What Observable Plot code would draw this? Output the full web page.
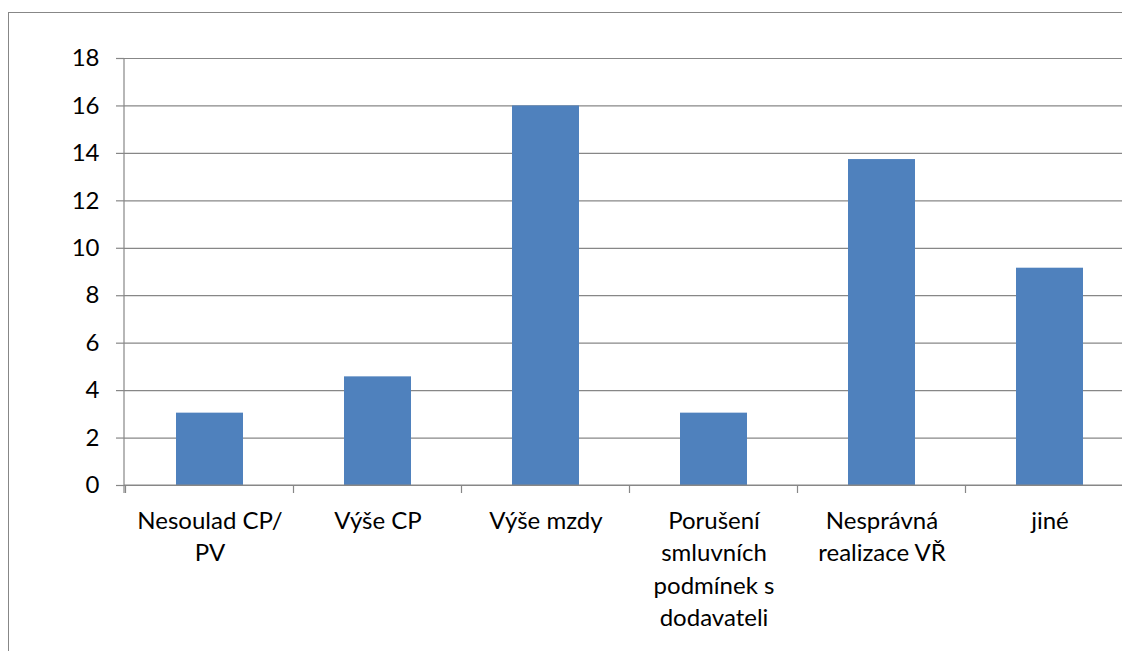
<!DOCTYPE html>
<html>
<head>
<meta charset="utf-8">
<script src="https://cdn.jsdelivr.net/npm/d3@7"></script>
<script src="https://cdn.jsdelivr.net/npm/@observablehq/plot@0.6"></script>
<style>
  html, body { margin: 0; padding: 0; background: white; overflow: hidden; }
  #wrap { position: relative; width: 1122px; height: 651px; overflow: hidden; }
  #frame { position: absolute; left: 8px; top: 12px; width: 1300px; height: 800px;
           border: 1.5px solid #878787; pointer-events: none; }
</style>
</head>
<body>
<div id="wrap"><div id="chart"></div><div id="frame"></div></div>
<script>
const categories = ["Nesoulad CP/\nPV", "Výše CP", "Výše mzdy", "Porušení\nsmluvních\npodmínek s\ndodavateli", "Nesprávná\nrealizace VŘ", "jiné"];
const values = [3.05, 4.58, 16.0, 3.05, 13.74, 9.16];
const yTicks = [0, 2, 4, 6, 8, 10, 12, 14, 16, 18];

const data = categories.map((c, i) => ({cat: c, value: values[i]}));
const gray = "#878787";
const font = "Lato, 'Open Sans', sans-serif";

function axisLines(index, scales, values, dimensions) {
  const sx = scales.x, sy = scales.y;
  const step = sx.step(), bw = sx.bandwidth();
  const [x0, x1] = sx.range();
  const y0 = sy(0), yTop = sy(18);
  const g = d3.create("svg:g").attr("stroke", gray).attr("stroke-width", 1.2).attr("fill", "none");
  g.append("line").attr("x1", x0).attr("x2", x0).attr("y1", yTop).attr("y2", y0 + 8);
  g.append("line").attr("x1", x0).attr("x2", x1).attr("y1", y0).attr("y2", y0);
  const bounds = categories.map(c => sx(c) - (step - bw) / 2);
  bounds.push(sx(categories[categories.length - 1]) + bw + (step - bw) / 2);
  for (const b of bounds) g.append("line").attr("x1", b).attr("x2", b).attr("y1", y0).attr("y2", y0 + 8);
  return g.node();
}

const chart = Plot.plot({
  width: 1122,
  height: 651,
  marginLeft: 124,
  marginRight: -14,
  marginTop: 58,
  marginBottom: 166,
  style: {fontFamily: font, fontSize: "24px", background: "white", overflow: "visible", color: "black"},
  x: {domain: categories, paddingInner: 0.6, paddingOuter: 0.3, axis: null},
  y: {domain: [0, 18], axis: null},
  marks: [
    Plot.ruleY(yTicks, {y: d => d, stroke: gray, strokeWidth: 1.2}),
    Plot.barY(data, {x: "cat", y: "value", fill: "#4F81BD"}),
    Plot.axisY({ticks: yTicks, tickSize: 8, tickPadding: 17, stroke: gray, strokeWidth: 1.2, fill: "black",
                fontSize: 24, fontFamily: font, tickFormat: d => String(d), label: null}),
    axisLines,
    Plot.text(data, {x: "cat", y: () => 0, text: "cat", lineAnchor: "top", dy: 20, lineHeight: 1.354,
                     fontSize: 24, fontFamily: font, fill: "black"})
  ]
});
document.getElementById("chart").appendChild(chart);
</script>
</body>
</html>
